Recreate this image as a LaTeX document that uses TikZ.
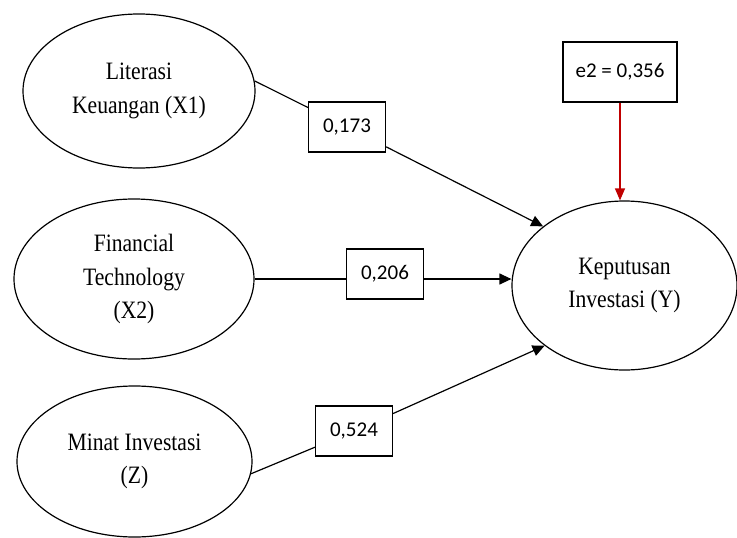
\documentclass[tikz,border=0pt]{standalone}
\usepackage{fontspec}
\usetikzlibrary{shapes.geometric,arrows.meta}
\newfontfamily\tnrfont[FakeStretch=0.865]{Liberation Serif}
\newfontfamily\calfont{Carlito}
\definecolor{arrowred}{RGB}{192,0,0}
\begin{document}
\begin{tikzpicture}[x=1pt,y=-1pt,
  latent/.style={ellipse, draw, line width=1.2pt, inner sep=0pt, align=center,
    font=\tnrfont\fontsize{25}{33.5}\selectfont},
  valbox/.style={rectangle, draw, line width=1.2pt, fill=white, inner sep=0pt,
    minimum width=77pt, minimum height=50pt, font=\calfont\fontsize{21}{25}\selectfont},
  link/.style={line width=1.2pt},
  arr/.style={line width=1.2pt, -{Triangle[length=12pt,width=11pt]}},
  redarr/.style={line width=1.2pt, draw=arrowred, -{Triangle[length=12pt,width=10pt]}, color=arrowred}
]
\useasboundingbox (0,0) rectangle (737,538);

\node[latent, minimum width=232pt, minimum height=154pt] (x1) at (139,91) {Literasi\\Keuangan (X1)};
\node[latent, minimum width=240pt, minimum height=160pt] (x2) at (134,279) {Financial\\Technology\\(X2)};
\node[latent, minimum width=235pt, minimum height=151pt] (z) at (134.5,461.5) {Minat Investasi\\(Z)};
\node[latent, minimum width=225pt, minimum height=169pt] (y) at (624.5,285.5) {Keputusan\\Investasi (Y)};

\node[valbox] (b1) at (347,127) {0,173};
\node[valbox] (b2) at (385,274) {0,206};
\node[valbox] (b3) at (354,431) {0,524};
\node[valbox, minimum width=114pt, minimum height=60pt] (e2) at (620,72) {e2 = 0,356};

\draw[link] (x1.5) -- (b1);
\draw[arr] (b1) -- (y.144);
\draw[link] (x2.east) -- (b2.west |- x2.east);
\draw[arr] (b2.east |- x2.east) -- (y.west |- x2.east);
\draw[link] (z.-6) -- (b3);
\draw[arr] (b3) -- (y.217);
\draw[redarr] (e2) -- (e2 |- y.north);
\end{tikzpicture}
\end{document}
